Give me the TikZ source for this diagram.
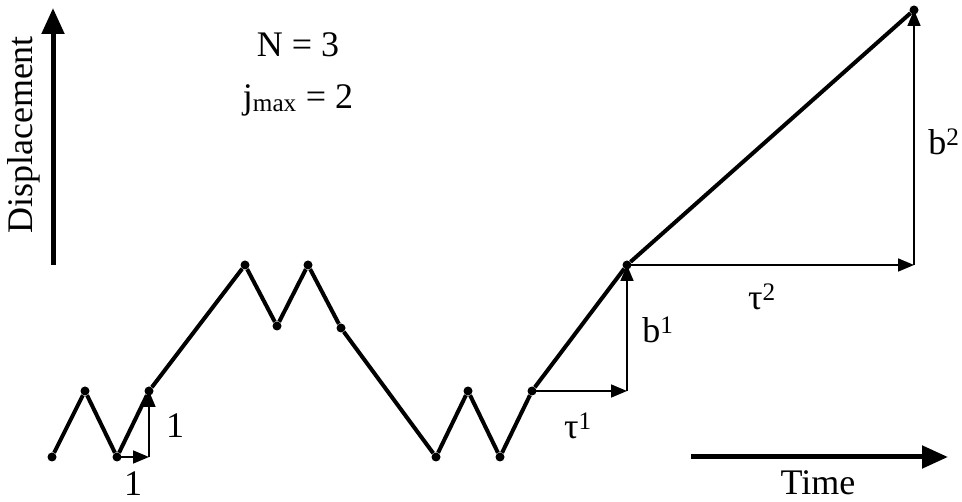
\documentclass[tikz,border=0pt]{standalone}
\usepackage{fontspec}
\setmainfont{Liberation Serif}
\usetikzlibrary{positioning}
\usetikzlibrary{calc}
\usetikzlibrary{arrows.meta}

\begin{document}
\begin{tikzpicture}[x=1pt, y=-1pt,
    dot/.style={circle, fill, inner sep=0pt, minimum size=9pt},
    walk/.style={line width=4pt, line join=round},
    jump/.style={line width=1.7pt, -{Triangle[length=16pt, width=13pt]}},
    axis/.style={line width=5pt, -{Triangle[length=26pt, width=22pt]}},
    lbl/.style={font=\fontsize{36}{40}\selectfont, inner sep=0pt}]
    \useasboundingbox (0,0) rectangle (962,502);

    % walk vertices
    \foreach \x/\y [count=\i from 0] in {52/457, 85/391, 117/457, 149/391, 245/265, 277/326, 308/265, 341/328, 436/457, 468/391, 500/457, 532/391, 627/265, 914/10}
        \node[dot] (w\i) at (\x,\y) {};

    \draw[walk] (w0) -- (w1) -- (w2) -- (w3) -- (w4) -- (w5) -- (w6) -- (w7) -- (w8) -- (w9) -- (w10) -- (w11) -- (w12) -- (w13);

    % steps
    \coordinate (c1) at (w3 |- w2);
    \coordinate (c2) at (w12 |- w11);
    \coordinate (c3) at (w13 |- w12);
    \draw[jump] (w2.center) -- (c1);
    \draw[jump] (c1) -- (w3.center);
    \draw[jump] (w11.center) -- (c2);
    \draw[jump] (c2) -- (w12.center);
    \draw[jump] (w12.center) -- (c3);
    \draw[jump] (c3) -- (w13.center);

    \node[lbl] (one1) at (133,484) {1};
    \node[lbl] (one2) at (175,426) {1};
    \node[lbl] (tau1) at (578,426) {τ\textsuperscript{1}};
    \node[lbl] (b1) at (658,330) {b\textsuperscript{1}};
    \node[lbl] (tau2) at (762,297) {τ\textsuperscript{2}};
    \node[lbl] (b2) at (944,142) {b\textsuperscript{2}};

    % axes
    \coordinate (d0) at (53,265);
    \coordinate (d1) at (53,8);
    \draw[axis] (d0) -- (d1);
    \node[lbl, rotate=90] (disp) at (24,135) {Displacement};
    \coordinate (t0) at (691,457);
    \coordinate (t1) at (948,457);
    \draw[axis] (t0) -- (t1);
    \node[lbl] (time) at (818,483) {Time};

    \node[lbl] (n) at (298,45) {N = 3};
    \node[lbl] (jmax) at (298,100) {j\textsubscript{max} = 2};
\end{tikzpicture}
\end{document}
